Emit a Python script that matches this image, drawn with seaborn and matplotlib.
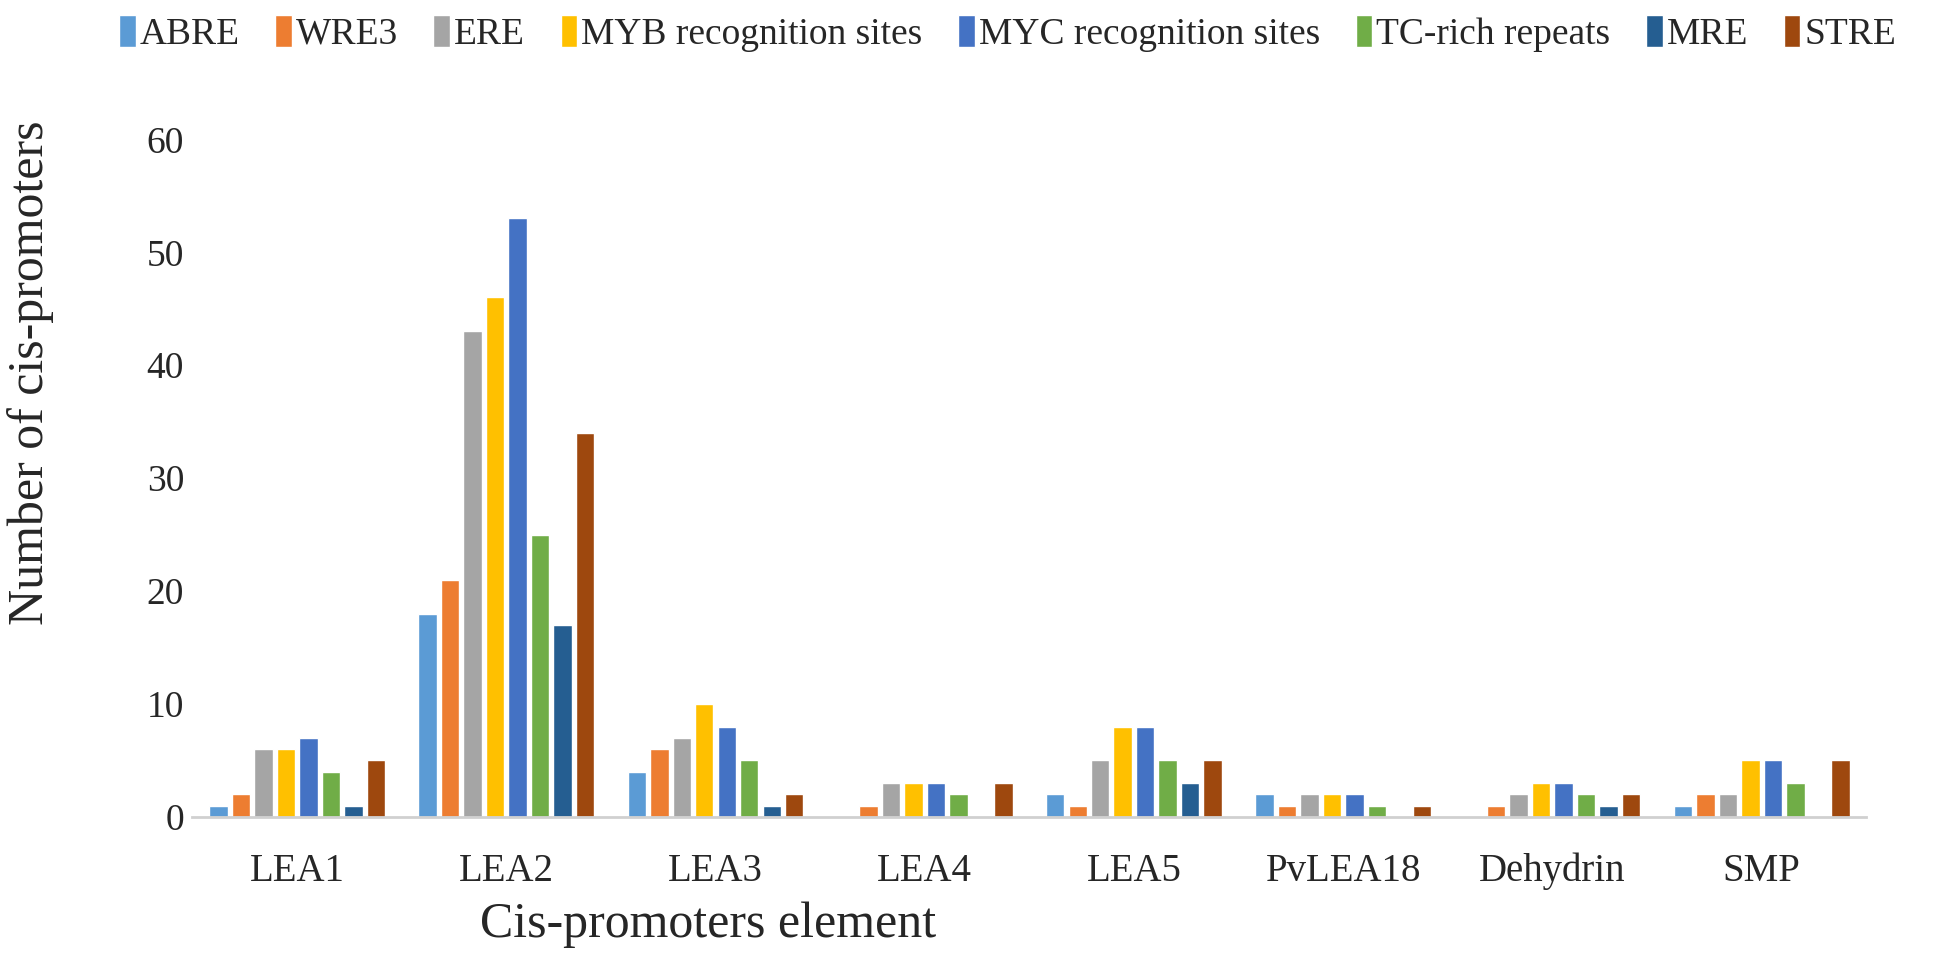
import matplotlib
matplotlib.use("Agg")
import matplotlib.pyplot as plt
import seaborn as sns
import pandas as pd

CATEGORIES = ["LEA1", "LEA2", "LEA3", "LEA4", "LEA5", "PvLEA18", "Dehydrin", "SMP"]
ELEMENTS = ["ABRE", "WRE3", "ERE", "MYB recognition sites", "MYC recognition sites",
            "TC-rich repeats", "MRE", "STRE"]

ABRE = [1, 18, 4, 0, 2, 2, 0, 1]
WRE3 = [2, 21, 6, 1, 1, 1, 1, 2]
ERE = [6, 43, 7, 3, 5, 2, 2, 2]
MYB = [6, 46, 10, 3, 8, 2, 3, 5]
MYC = [7, 53, 8, 3, 8, 2, 3, 5]
TC_RICH = [4, 25, 5, 2, 5, 1, 2, 3]
MRE = [1, 17, 1, 0, 3, 0, 1, 0]
STRE = [5, 34, 2, 3, 5, 1, 2, 5]

COLORS = ["#5B9BD5", "#ED7D31", "#A5A5A5", "#FFC000", "#4472C4", "#70AD47", "#255E91", "#9E480E"]

series = [ABRE, WRE3, ERE, MYB, MYC, TC_RICH, MRE, STRE]
rows = []
for name, vals in zip(ELEMENTS, series):
    for cat, v in zip(CATEGORIES, vals):
        rows.append({"gene": cat, "element": name, "count": v})
df = pd.DataFrame(rows)

sns.set_style("white")
plt.rcParams["font.family"] = ["Liberation Serif", "DejaVu Serif"]

fig, ax = plt.subplots(figsize=(19.44, 9.61), dpi=100)
sns.barplot(data=df, x="gene", y="count", hue="element", hue_order=ELEMENTS,
            order=CATEGORIES, palette=COLORS, width=0.86, gap=0.18,
            saturation=1, ax=ax, errorbar=None)

ax.set_ylim(0, 60)
ax.set_yticks(range(0, 61, 10))
ax.set_xlim(-0.5, len(CATEGORIES) - 0.5)
ax.set_xlabel("Cis-promoters element", fontsize=36)
ax.set_ylabel("Number of cis-promoters", fontsize=36)
ax.xaxis.set_label_coords(0.308, -0.125)
ax.yaxis.set_label_coords(-0.083, 0.656)
ax.tick_params(axis="y", labelsize=27, length=0, pad=6)
ax.tick_params(axis="x", labelsize=28, length=0, pad=26)

for s in ["top", "right", "left"]:
    ax.spines[s].set_visible(False)
ax.spines["bottom"].set_color("#D0D0D0")
ax.spines["bottom"].set_linewidth(2)
# category separator ticks
ax.set_xticks([i - 0.5 for i in range(len(CATEGORIES) + 1)], minor=True)
ax.tick_params(axis="x", which="minor", length=12, width=2, color="#D0D0D0")

ax.legend(loc="upper left", bbox_to_anchor=(-0.053, 1.205), ncol=8, frameon=False,
          fontsize=27, handlelength=0.45, handleheight=0.9, handletextpad=0.1,
          columnspacing=0.95, borderaxespad=0)

fig.subplots_adjust(left=0.099, right=0.96, top=0.855, bottom=0.15)
fig.savefig("out.png", dpi=100)
plt.close(fig)
